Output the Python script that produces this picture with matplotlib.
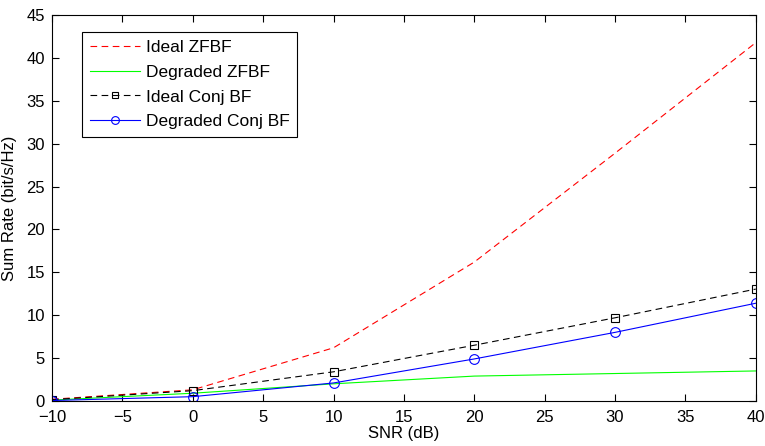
import matplotlib
matplotlib.use("Agg")
import matplotlib.pyplot as plt

plt.rcParams['font.family'] = ['Liberation Sans', 'DejaVu Sans']

snr = [-10, 0, 10, 20, 30, 40]
ideal_zfbf = [0.2, 1.3, 6.2, 16.2, 28.9, 41.8]
degraded_zfbf = [0.1, 0.9, 2.0, 2.9, 3.2, 3.5]
ideal_conj = [0.15, 1.2, 3.4, 6.5, 9.7, 13.05]
degraded_conj = [0.05, 0.5, 2.1, 4.9, 8.0, 11.4]

fig = plt.figure(figsize=(7.65, 4.46), dpi=100)
ax = fig.add_axes([0.068, 0.101, 0.92, 0.865])

ax.plot(snr, ideal_zfbf, color='red', linestyle=(0, (6, 4)), lw=0.8, label='Ideal ZFBF')
ax.plot(snr, degraded_zfbf, color='#00ff00', linestyle='-', lw=0.8, label='Degraded ZFBF')
ax.plot(snr, ideal_conj, color='black', linestyle=(0, (6, 4)), lw=0.8, marker='s',
        markersize=6, markerfacecolor='none', markeredgewidth=0.8, label='Ideal Conj BF')
ax.plot(snr, degraded_conj, color='blue', linestyle='-', lw=0.8, marker='o',
        markersize=7, markerfacecolor='none', markeredgewidth=0.8, label='Degraded Conj BF')

ax.set_xlim(-10, 40)
ax.set_ylim(0, 45)
ax.set_xticks(range(-10, 41, 5))
ax.set_yticks(range(0, 46, 5))
ax.set_xticklabels(['\u221210', '\u22125', '0', '5', '10', '15', '20', '25', '30', '35', '40'])
ax.tick_params(direction='in', top=True, right=True, labelsize=12, length=5, width=0.8)
ax.tick_params(axis='x', pad=6.5)
ax.tick_params(axis='y', pad=5)
ax.set_xlabel('SNR (dB)', fontsize=12, labelpad=1)
ax.set_ylabel('Sum Rate (bit/s/Hz)', fontsize=12, labelpad=7)
for s in ax.spines.values():
    s.set_linewidth(0.8)

leg = ax.legend(loc='upper left', bbox_to_anchor=(0.043, 0.956), borderaxespad=0,
                fontsize=12.5, fancybox=False,
                edgecolor='black', framealpha=1, handlelength=2.9, handletextpad=0.3,
                borderpad=0.45, labelspacing=0.55, markerscale=0.8)
leg.get_frame().set_linewidth(0.8)

fig.savefig('out.png', dpi=100)
